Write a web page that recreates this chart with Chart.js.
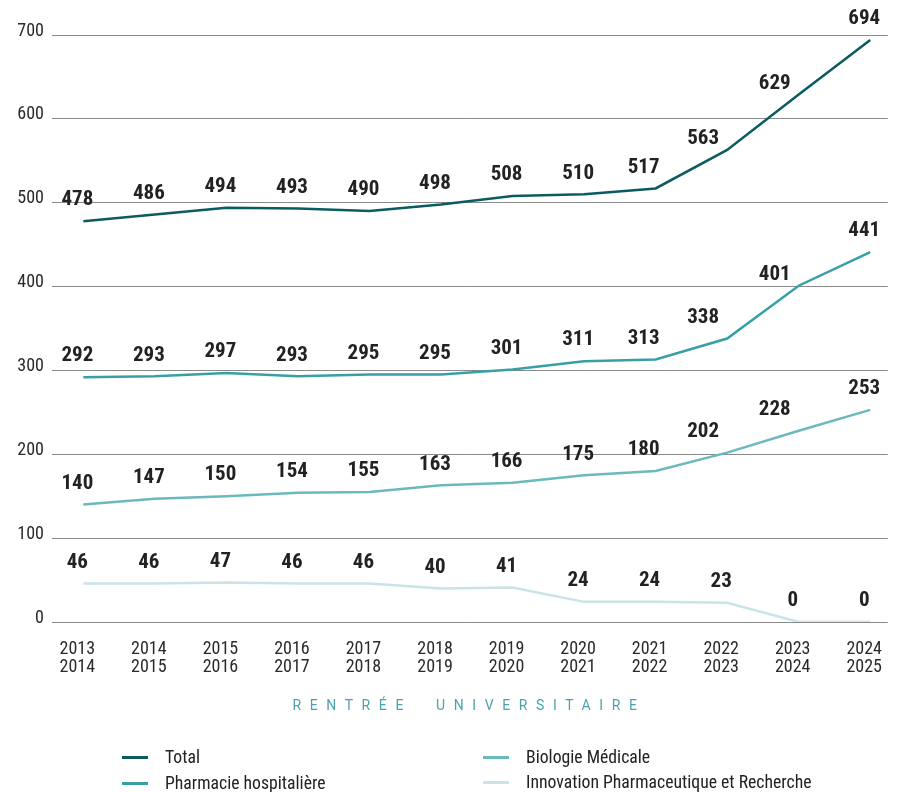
<!DOCTYPE html>
<html>
<head>
<meta charset="utf-8">
<script src="https://cdn.jsdelivr.net/npm/chart.js@4.4.1/dist/chart.umd.min.js"></script>
<style>
  html, body { margin: 0; padding: 0; background: #fff; }
  #wrap { position: relative; width: 906px; height: 792px; overflow: hidden; font-family: 'Liberation Sans Narrow', 'Roboto Condensed', 'DejaVu Sans Condensed', sans-serif; }
  #c { position: absolute; left: 0; top: 0; }
  #axisTitle { position: absolute; left: 0; width: 906px; top: 697px; text-align: center; font-family: Roboto, sans-serif; font-size: 14px; letter-spacing: 8.6px; color: #4aa3ab; padding-left: 32px; box-sizing: border-box; }
  .lg { position: absolute; display: flex; align-items: center; font-size: 17.7px; color: #222; white-space: nowrap; }
  .lg span.m { display: inline-block; width: 26px; height: 3px; margin-right: 17px; }
</style>
</head>
<body>
<div id="wrap">
  <canvas id="c" width="906" height="792"></canvas>
  <div id="axisTitle">RENTRÉE&nbsp; UNIVERSITAIRE</div>
  <div id="legend"></div>
</div>
<script>
const categories = [
  ["2013","2014"],["2014","2015"],["2015","2016"],["2016","2017"],["2017","2018"],["2018","2019"],
  ["2019","2020"],["2020","2021"],["2021","2022"],["2022","2023"],["2023","2024"],["2024","2025"]
];
const seriesNames = ["Total", "Pharmacie hospitalière", "Biologie Médicale", "Innovation Pharmaceutique et Recherche"];
const total      = [478, 486, 494, 493, 490, 498, 508, 510, 517, 563, 629, 694];
const pharmacie  = [292, 293, 297, 293, 295, 295, 301, 311, 313, 338, 401, 441];
const biologie   = [140, 147, 150, 154, 155, 163, 166, 175, 180, 202, 228, 253];
const innovation = [46, 46, 47, 46, 46, 40, 41, 24, 24, 23, 0, 0];
const yTicks = [0, 100, 200, 300, 400, 500, 600, 700];

const colors = ["#0b5c61", "#37a0a7", "#6cb9bd", "#c9e4e5"];
const seriesValues = [total, pharmacie, biologie, innovation];

const datasets = seriesValues.map((vals, i) => ({
  label: seriesNames[i],
  data: vals.map((v, j) => ({ x: j, y: v })),
  borderColor: colors[i],
  backgroundColor: colors[i],
  borderWidth: 2.5,
  pointRadius: 0,
  tension: 0,
  fill: false
}));

const FONT = "'Liberation Sans Narrow', 'Roboto Condensed', 'DejaVu Sans Condensed', sans-serif";

const valueLabels = {
  id: 'valueLabels',
  afterDatasetsDraw(chart) {
    const ctx = chart.ctx;
    ctx.save();
    ctx.font = "bold 21px " + FONT;
    ctx.fillStyle = '#222';
    ctx.textAlign = 'center';
    ctx.textBaseline = 'middle';
    chart.data.datasets.forEach((ds, di) => {
      const meta = chart.getDatasetMeta(di);
      meta.data.forEach((pt, j) => {
        const prev = meta.data[j - 1], next = meta.data[j + 1];
        const prevRise = prev ? prev.y - pt.y : 0;
        const nextRise = next ? pt.y - next.y : 0;
        let dx = -6, dy = 21;
        if (nextRise > 15) dx = prevRise > 15 ? -24 : -12;
        if (nextRise > 15 && prevRise > 30) dy = 11;
        ctx.fillText(String(seriesValues[di][j]), pt.x + dx, pt.y - dy);
      });
    });
    ctx.restore();
  }
};

new Chart(document.getElementById('c'), {
  type: 'line',
  data: { datasets },
  options: {
    responsive: false,
    animation: false,
    layout: { padding: { top: 35, right: 0, left: 0, bottom: 110 } },
    plugins: { legend: { display: false }, tooltip: { enabled: false } },
    scales: {
      x: {
        type: 'linear',
        min: -0.438,
        max: 11.246,
        grid: { display: false, drawTicks: false },
        border: { display: false },
        afterFit(s) { s.height = 60; },
        afterBuildTicks(s) { s.ticks = categories.map((c, i) => ({ value: i })); },
        ticks: {
          padding: 18,
          labelOffset: -6,
          color: '#2a2a2a',
          font: { family: FONT, size: 18, lineHeight: '18px' },
          maxRotation: 0,
          autoSkip: false,
          callback: (v) => categories[v]
        }
      },
      y: {
        min: 0,
        max: 700,
        afterFit(s) { s.width = 52; },
        afterBuildTicks(s) { s.ticks = yTicks.map(v => ({ value: v })); },
        grid: { color: '#8a8a8a', lineWidth: 1, drawTicks: false },
        border: { display: false },
        ticks: {
          padding: 8,
          labelOffset: -4,
          color: '#2a2a2a',
          font: { family: FONT, size: 18 }
        }
      }
    }
  },
  plugins: [valueLabels]
});

// HTML legend (column-wise order as in the reference)
const legendPos = [[122, 758], [122, 784], [483, 758], [483, 783]];
const lg = document.getElementById('legend');
seriesNames.forEach((name, i) => {
  const d = document.createElement('div');
  d.className = 'lg';
  d.style.left = legendPos[i][0] + 'px';
  d.style.top = (legendPos[i][1] - 11) + 'px';
  d.innerHTML = '<span class="m" style="background:' + colors[i] + '"></span>';
  d.appendChild(document.createTextNode(name));
  lg.appendChild(d);
});
</script>
</body>
</html>
